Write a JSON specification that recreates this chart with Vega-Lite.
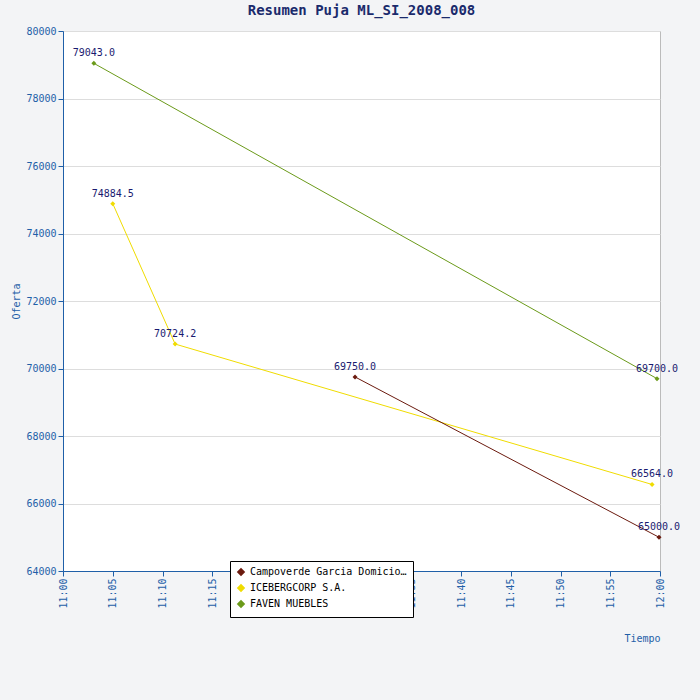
{
  "$schema": "https://vega.github.io/schema/vega-lite/v6.json",
  "autosize": "none",
  "width": 597,
  "height": 540,
  "padding": {"left": 63, "top": 31, "right": 40, "bottom": 129},
  "background": "#f3f4f6",
  "title": {"text": "Resumen Puja ML_SI_2008_008", "font": "DejaVu Sans Mono", "fontSize": 14, "color": "#1a2a6c", "fontWeight": "bold", "offset": 8},
  "data": {"values": [
    {"min": 3.1, "oferta": 79043.0, "postor": "FAVEN MUEBLES"},
    {"min": 59.7, "oferta": 69700.0, "postor": "FAVEN MUEBLES"},
    {"min": 5.0, "oferta": 74884.5, "postor": "ICEBERGCORP S.A."},
    {"min": 11.27, "oferta": 70724.2, "postor": "ICEBERGCORP S.A."},
    {"min": 59.2, "oferta": 66564.0, "postor": "ICEBERGCORP S.A."},
    {"min": 29.35, "oferta": 69750.0, "postor": "Campoverde Garcia Domicio Djadimir"},
    {"min": 59.9, "oferta": 65000.0, "postor": "Campoverde Garcia Domicio Djadimir"}
  ]},
  "encoding": {
    "x": {"field": "min", "type": "quantitative", "title": "Tiempo",
      "scale": {"domain": [0, 60], "nice": false},
      "axis": {"values": [0, 5, 10, 15, 20, 25, 30, 35, 40, 45, 50, 55, 60], "labelExpr": "datum.value == 60 ? '12:00' : '11:' + (datum.value < 10 ? '0' : '') + datum.value", "labelAngle": 270, "grid": false, "titleAnchor": "end", "titleY": 62, "titleX": 597}},
    "y": {"field": "oferta", "type": "quantitative", "title": "Oferta",
      "scale": {"domain": [64000, 80000], "nice": false},
      "axis": {"values": [64000, 66000, 68000, 70000, 72000, 74000, 76000, 78000, 80000], "format": "d"}},
    "color": {"field": "postor", "type": "nominal",
      "scale": {"domain": ["Campoverde Garcia Domicio Djadimir", "ICEBERGCORP S.A.", "FAVEN MUEBLES"], "range": ["#6b1a0e", "#f0dc00", "#6b9a1a"]},
      "legend": {"title": null, "orient": "none", "legendX": 167, "legendY": 530, "symbolType": "diamond", "strokeColor": "black", "fillColor": "white", "padding": 6, "labelFont": "DejaVu Sans Mono", "labelFontSize": 10, "labelColor": "black", "symbolSize": 40}}
  },
  "layer": [
    {"mark": {"type": "line", "strokeWidth": 1}},
    {"mark": {"type": "point", "shape": "diamond", "filled": true, "size": 25, "opacity": 1}},
    {"mark": {"type": "text", "dy": -10, "font": "DejaVu Sans Mono", "fontSize": 10},
      "encoding": {"text": {"field": "oferta", "type": "quantitative", "format": ".1f"}, "color": {"value": "#1a1a70"}}}
  ],
  "config": {
    "view": {"fill": "white", "stroke": "#bbbbbb"},
    "axis": {"labelFont": "DejaVu Sans Mono", "titleFont": "DejaVu Sans Mono", "labelFontSize": 10, "titleFontSize": 10, "titleFontWeight": "normal", "labelColor": "#1f5fa8", "titleColor": "#1f5fa8", "domainColor": "#1f5fa8", "tickColor": "#1f5fa8", "gridColor": "#dddddd"}
  }
}
